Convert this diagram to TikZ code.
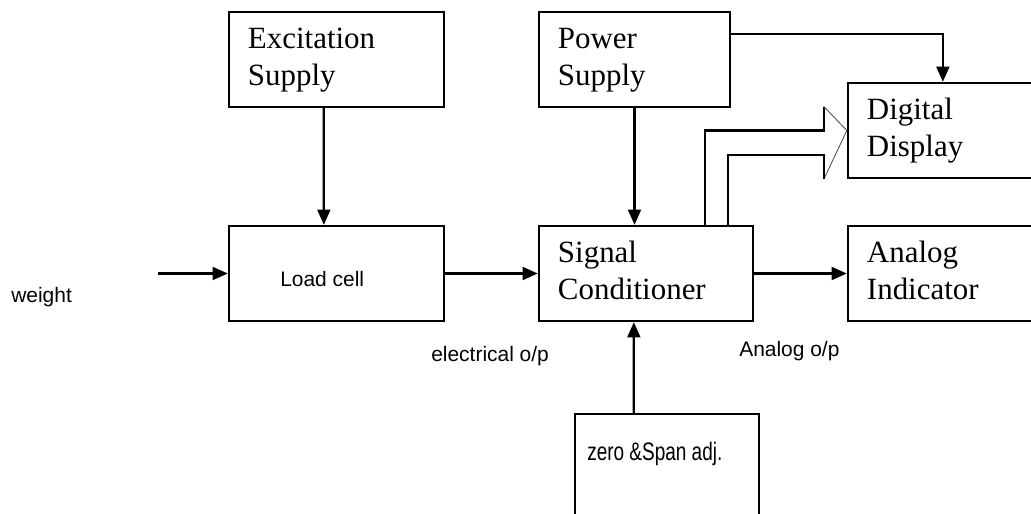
\documentclass[tikz,border=0pt]{standalone}
\usepackage{fontspec}
\setmainfont{Liberation Serif}
\newfontfamily\arialfont{Liberation Sans}
\newfontfamily\narrowfont[FakeStretch=0.75]{Liberation Sans}
\usetikzlibrary{arrows.meta,calc}

\begin{document}
\begin{tikzpicture}[
  x=0.025cm, y=-0.025cm,
  blockbox/.style={rectangle,draw=black,line width=1.6pt,minimum height=2.375cm,
    inner xsep=0.475cm,inner ysep=0pt,align=left,font=\fontsize{22}{26.3}\selectfont},
  openbox/.style={rectangle,draw=black,line width=1.6pt,inner sep=0pt},
  sanslabel/.style={font=\arialfont\fontsize{14.9}{18}\selectfont,anchor=west,inner sep=0pt},
  narrowlabel/.style={font=\narrowfont\fontsize{18}{21}\selectfont,anchor=west,inner sep=0pt},
  fwdarrow/.style={-{Triangle[length=0.38cm,width=0.32cm]},line width=1.6pt},
  fwdline/.style={line width=1.6pt},
  headline/.style={line width=0.6pt,black!70},
]
\useasboundingbox (0,0) rectangle (1031,513);
\clip (0,0) rectangle (1031,513);

% ---------- Blocks ----------
\node[blockbox,text width=4.425cm] (exc) at (336.5,59.5) {\strut Excitation\\\strut Supply};
\node[openbox,minimum width=5.375cm,minimum height=2.375cm] (load) at (336.5,273.5) {};
\node[sanslabel] (loadtext) at (280,279.5) {Load cell};

\node[blockbox,text width=3.825cm] (power) at (634.5,59.5) {\strut Power\\\strut Supply};
\node[blockbox,text width=4.4cm] (sig) at (646,273.5) {\strut Signal\\\strut Conditioner};

\node[blockbox,text width=4.425cm] (disp) at (955.5,130.5) {\strut Digital\\\strut Display};
\node[blockbox,text width=4.425cm] (ana) at (955.5,273.5) {\strut Analog\\\strut Indicator};

\node[openbox,minimum width=4.6cm,minimum height=3.75cm] (zero) at (667,489) {};
\node[narrowlabel] (zerotext) at (587,454) {zero \&Span adj.};

% ---------- Labels ----------
\node[sanslabel] (weight) at (11,297.5) {weight};
\node[sanslabel] (elout) at (431,356) {electrical o/p};
\node[sanslabel] (anout) at (739,351) {Analog o/p};

% ---------- Arrows ----------
\coordinate (win) at (158,273.5);
\draw[fwdarrow] (win) -- (load.west);
\draw[fwdarrow] ($(exc.south west)+(96,0)$) -- ($(load.north west)+(96,0)$);
\draw[fwdarrow] (load.east) -- (sig.west);
\draw[fwdarrow] (power.south) -- (power.south |- sig.north);
\draw[fwdarrow] ($(power.north east)+(0,23)$) -| ($(disp.north west)+(96,0)$);
\draw[fwdarrow] (sig.east) -- (ana.west);
\draw[fwdarrow] ($(zero.north west)+(60,0)$) -- ($(sig.south west)+(96,0)$);

% ---------- Hollow arrow to display ----------
\draw[fwdline] ($(sig.north west)+(167,0)$) |- ($(disp.west)+(-23,0)$) -- ($(disp.west)+(-23,-24)$);
\draw[headline] ($(disp.west)+(-23,-24)$) -- (disp.west) -- ($(disp.south west)+(-23,0)$);
\draw[fwdline] ($(disp.south west)+(-23,0)$) -- ($(disp.west)+(-23,24.5)$) -| ($(sig.north west)+(190,0)$);

\end{tikzpicture}
\end{document}
